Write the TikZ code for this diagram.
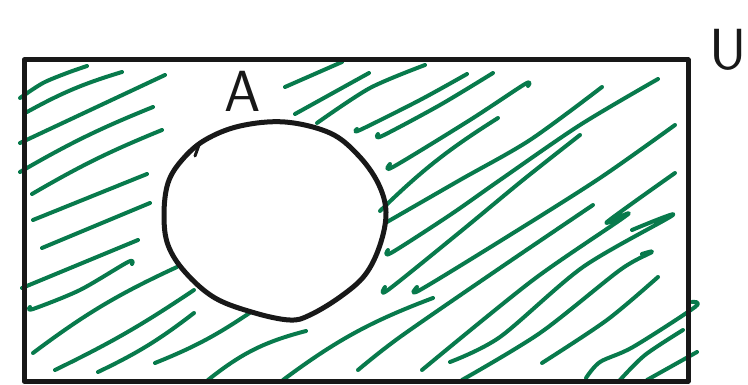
\documentclass[tikz,border=0pt]{standalone}
\definecolor{hatchgreen}{RGB}{8,122,76}
\definecolor{penblack}{RGB}{24,24,24}
\tikzset{
  frame/.style={line width=5pt, penblack, line join=round, line cap=round},
  hatch/.style={line width=4pt, hatchgreen, line cap=round, line join=round},
  setlabel/.style={font=\fontsize{58}{58}\selectfont\sffamily, text=penblack, inner sep=0pt}
}
\begin{document}
\begin{tikzpicture}[x=1pt, y=-1pt]
\useasboundingbox (0,0) rectangle (748,385);

% hatching, left of the circle
\draw[hatch] plot[smooth] coordinates {(20,98) (43,83) (67,73) (87,66)};
\draw[hatch] (27,112) to[bend left=6] (122,72);
\draw[hatch] (20,143) -- (165,75);
\draw[hatch] (20,172) to[bend left=4] (153,107);
\draw[hatch] (32,194) to[bend left=4] (162,130);
\draw[hatch] (33,220) -- (147,174);
\draw[hatch] (42,248) -- (150,203);
\draw[hatch] (22,288) -- (138,240);
\draw[hatch] plot[smooth] coordinates {(30,307) (33,309) (80,290) (128,262) (132,264)};
\draw[hatch] (33,353) to[bend left=6] (177,267);
\draw[hatch] (55,370) to[bend right=4] (194,290);
\draw[hatch] (98,372) to[bend right=6] (194,313);
\draw[hatch] (155,363) to[bend right=6] (251,312);
\draw[hatch] (208,380) to[bend left=12] (306,331);

% hatching, above the circle
\draw[hatch] (285,87) -- (342,62);
\draw[hatch] (295,114) -- (369,73);
\draw[hatch] plot[smooth] coordinates {(317,123) (370,88) (425,65)};
\draw[hatch] plot[smooth] coordinates {(357,129) (360,130) (420,100) (467,74)};
\draw[hatch] plot[smooth] coordinates {(378,134) (382,136) (440,105) (493,73)};

% hatching, right of the circle
\draw[hatch] plot[smooth] coordinates {(390,164) (393,167) (470,120) (525,84) (528,86)};
\draw[hatch] (380,211) to[bend left=6] (498,118);
\draw[hatch] plot[smooth] coordinates {(387,222) (460,180) (530,140) (602,87)};
\draw[hatch] plot[smooth] coordinates {(388,250) (391,253) (450,215) (500,180) (580,125) (658,79)};
\draw[hatch] plot[smooth] coordinates {(385,287) (388,290) (460,232) (523,180) (580,135)};
\draw[hatch] plot[smooth] coordinates {(417,287) (420,290) (510,235) (600,178) (675,125)};
\draw[hatch] (283,380) to[bend left=8] (433,298);
\draw[hatch] plot[smooth] coordinates {(358,370) (400,337) (500,268) (593,205)};
\draw[hatch] plot[smooth] coordinates {(422,370) (533,280) (627,215) (607,222) (675,173)};
\draw[hatch] plot[smooth] coordinates {(450,362) (500,337) (583,267) (673,215) (632,230)};
\draw[hatch] plot[smooth] coordinates {(462,380) (540,333) (620,270) (652,252) (642,254)};
\draw[hatch] plot[smooth] coordinates {(542,363) (607,320) (658,277)};
\draw[hatch] plot[smooth] coordinates {(586,378) (600,362) (633,347) (695,307) (692,302)};
\draw[hatch] plot[smooth] coordinates {(620,380) (645,355) (683,330)};
\draw[hatch] (647,380) -- (697,352);

% universe and set A
\draw[frame] (24,60) rectangle (688,381);
\draw[frame] plot[smooth cycle, tension=0.6] coordinates {
  (164,215) (168,183) (182,160) (205,140) (240,126) (285,122) (330,133)
  (358,155) (378,183) (386,212) (380,245) (365,275) (340,297) (310,315)
  (290,320) (255,313) (215,298) (185,272) (168,245)};
\draw[frame, line width=3pt] (195,156) -- (199,145);

\node[setlabel, anchor=base] (labelA) at (243,112) {A};
\node[setlabel, anchor=base] (labelU) at (728,70) {U};
\end{tikzpicture}
\end{document}
